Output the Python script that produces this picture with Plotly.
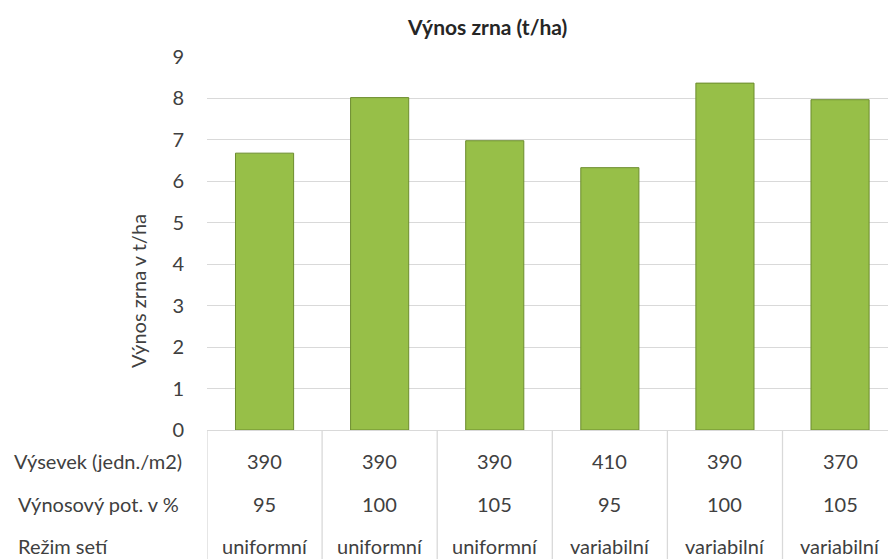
import plotly.graph_objects as go

# ---- data ----
categories = ["A1", "A2", "A3", "B1", "B2", "B3"]
vynos = [6.68, 8.02, 6.98, 6.33, 8.37, 7.97]
vysevek = ["390", "390", "390", "410", "390", "370"]
potencial = ["95", "100", "105", "95", "100", "105"]
rezim = ["uniformní", "uniformní", "uniformní", "variabilní", "variabilní", "variabilní"]
row_labels = ["Výsevek (jedn./m2)", "Výnosový pot. v %", "Režim setí"]
title_text = "Výnos zrna (t/ha)"
ytitle_text = "Výnos zrna v t/ha"
y_ticks = [0, 1, 2, 3, 4, 5, 6, 7, 8, 9]

W, H = 888, 559
L, R, T, B = 207, 0, 57, 129
PW, PH = W - L - R, H - T - B
FONT = "Lato, Carlito, Calibri, sans-serif"
TXT = "#404040"

def px_x(px):
    return (px - L) / PW

def px_y(py):
    return (H - B - py) / PH

idx = list(range(len(categories)))

fig = go.Figure()
fig.add_trace(go.Bar(
    x=idx, y=vynos, width=0.505,
    marker=dict(color="#97bf48", line=dict(color="#6c8c2e", width=1)),
    hoverinfo="y",
))

annotations = []
# title
annotations.append(dict(text=f"<b>{title_text}</b>", xref="paper", yref="paper",
                        x=px_x(487), y=px_y(27), showarrow=False,
                        font=dict(family=FONT, size=21, color="#262626"),
                        xanchor="center", yanchor="middle"))
# y axis title
annotations.append(dict(text=ytitle_text, xref="paper", yref="paper",
                        x=px_x(138), y=px_y(291), showarrow=False, textangle=-90,
                        font=dict(family=FONT, size=20, color=TXT),
                        xanchor="center", yanchor="middle"))
# table rows
rows = [vysevek, potencial, rezim]
row_y = [461, 504, 546]
row_x = [12, 16, 16]
for r, (vals, py) in enumerate(zip(rows, row_y)):
    annotations.append(dict(text=row_labels[r], xref="paper", yref="paper",
                            x=px_x(row_x[r]), y=px_y(py), showarrow=False,
                            xanchor="left", yanchor="middle",
                            font=dict(family=FONT, size=20, color=TXT)))
    for i, v in zip(idx, vals):
        annotations.append(dict(text=v, xref="x", yref="paper",
                                x=i, y=px_y(py), showarrow=False,
                                xanchor="center", yanchor="middle",
                                font=dict(family=FONT, size=20, color=TXT)))

shapes = []
for i in range(len(categories) + 1):
    shapes.append(dict(type="line", xref="x", yref="paper",
                       x0=i - 0.5, x1=i - 0.5, y0=0, y1=px_y(H),
                       line=dict(color="#d9d9d9", width=1.3)))

fig.update_layout(
    width=W, height=H,
    margin=dict(l=L, r=R, t=T, b=B, pad=0),
    paper_bgcolor="white", plot_bgcolor="white",
    showlegend=False,
    xaxis=dict(range=[-0.5, -0.5 + PW / 115.1], showticklabels=False, showgrid=False,
               zeroline=False, showline=True, linecolor="#d9d9d9", linewidth=1.3,
               fixedrange=True),
    yaxis=dict(range=[0, 9], tickvals=y_ticks, showgrid=True, gridcolor="#d9d9d9",
               gridwidth=1.3, zeroline=False, showline=False, ticks="",
               ticklabelstandoff=22,
               tickfont=dict(family=FONT, size=20, color=TXT), fixedrange=True),
    annotations=annotations,
    shapes=shapes,
)

fig.write_html("out.html", config={"displayModeBar": False},
               post_script="document.body.style.margin='0';document.body.style.overflow='hidden';")
